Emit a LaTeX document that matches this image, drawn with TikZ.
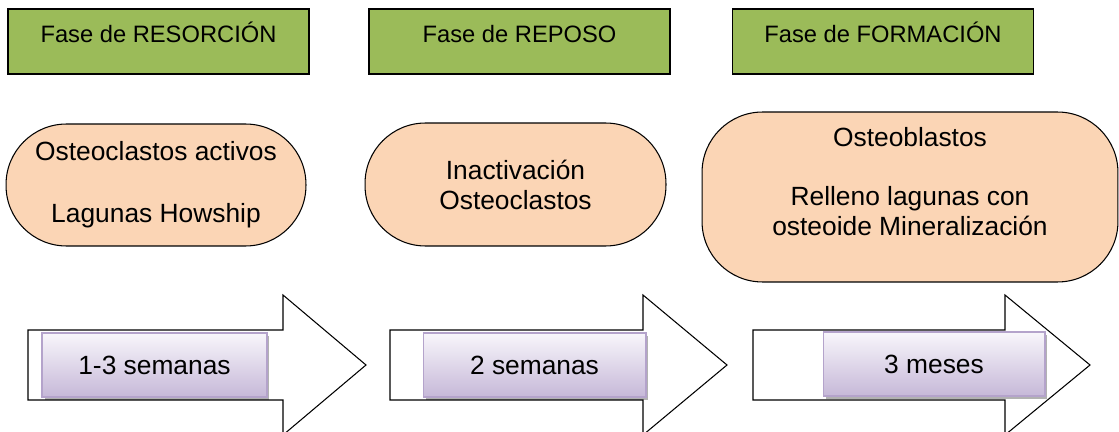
\documentclass[tikz,border=0pt]{standalone}
\usepackage{fontspec}
\setmainfont{Liberation Sans}
\usetikzlibrary{positioning,shadows}
\definecolor{phasegreen}{HTML}{9BBB59}
\definecolor{peach}{HTML}{FBD5B5}
\definecolor{lilactop}{HTML}{F8F6FB}
\definecolor{lilacbot}{HTML}{C6B8D8}
\definecolor{lilacline}{HTML}{B4A3CB}
\tikzset{phasebox/.style={draw,line width=0.8pt,fill=phasegreen,minimum width=6.02cm,inner ysep=0,
        text height=0.68cm,text depth=0.62cm,font=\fontsize{13.5}{16}\selectfont},
    blob/.style={draw,line width=0.6pt,fill=peach,rounded corners=1.21cm,align=center,
        font=\fontsize{15}{17}\selectfont},
    timebox/.style={draw=lilacline,line width=0.6pt,top color=lilactop,bottom color=lilacbot,
        minimum height=1.28cm,font=\fontsize{15}{17}\selectfont,
        drop shadow={shadow xshift=0.05cm,shadow yshift=-0.06cm,fill=black,opacity=0.3}}
}
\newcommand{\timearrow}[3]
{
% args: (x of tail, x of head base, x of tip)
    \draw [line width=0.6pt,fill=white] (#1,330) -- (#2,330) -- (#2,295) -- (#3,365)
        -- (#2,435) -- (#2,400) -- (#1,400) -- cycle;
}
\begin{document}
\begin{tikzpicture}[x=0.02cm,y=-0.02cm]

\useasboundingbox (0,0) rectangle (1119,432);
\clip (0,0) rectangle (1119,432);

% phases

\node (resorcion) at (158.5,41.5) [phasebox] {Fase de RESORCIÓN};
\node (reposo) at (519.5,41.5) [phasebox] {Fase de REPOSO};
\node (formacion) at (883,41.5) [phasebox] {Fase de FORMACIÓN};

% cells

\node (osteoclastos) at (156,185) [blob,minimum width=6cm,minimum height=2.44cm]
    {Osteoclastos activos\\[0.64cm]Lagunas Howship};
\node (inactivacion) at (515.5,184.5) [blob,minimum width=6.02cm,minimum height=2.46cm]
    {Inactivación\\Osteoclastos};
\node (osteoblastos) at (910,197) [blob,minimum width=8.32cm,minimum height=3.4cm,
    label={[align=center,yshift=0.31cm,font=\fontsize{15}{17}\selectfont]center:Osteoblastos\\[0.6cm]Relleno lagunas con\\osteoide Mineralización}] {};

% durations

\timearrow{28}{283}{366}
\timearrow{390}{643}{727}
\timearrow{753}{1005}{1090}

\node (tResorcion) at (154.5,365) [timebox,minimum width=4.5cm] {1-3 semanas};
\node (tReposo) at (534.5,365) [timebox,minimum width=4.46cm] {2 semanas};
\node (tFormacion) at (934,364) [timebox,minimum width=4.44cm] {3 meses};

\end{tikzpicture}
\end{document}
